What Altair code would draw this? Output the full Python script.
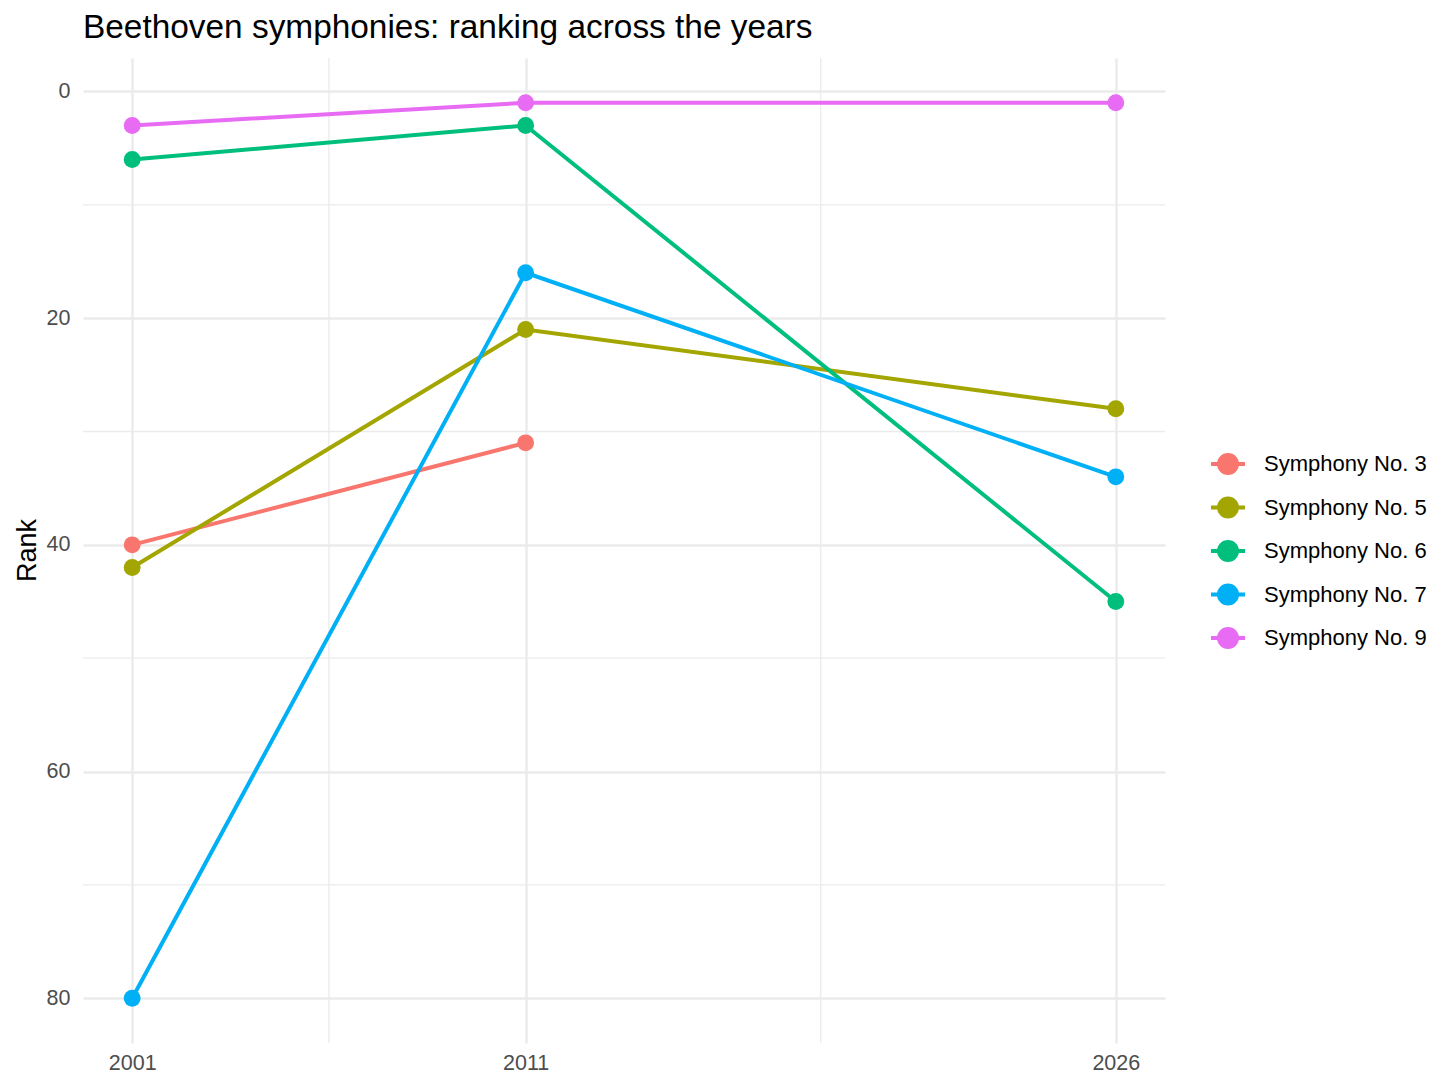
import altair as alt
import pandas as pd

# ---- data ----
symphonies = ["Symphony No. 3", "Symphony No. 5", "Symphony No. 6",
              "Symphony No. 7", "Symphony No. 9"]
years = [2001, 2011, 2026]
rank_no3 = [40, 31, None]
rank_no5 = [42, 21, 28]
rank_no6 = [6, 3, 45]
rank_no7 = [80, 16, 34]
rank_no9 = [3, 1, 1]
colors = ["#F8766D", "#A3A500", "#00BF7D", "#00B0F6", "#E76BF3"]

y_major = [0, 20, 40, 60, 80]
y_minor = [10, 30, 50, 70]
x_minor = [2006, 2018.5]

rows = []
for name, ranks in zip(symphonies, [rank_no3, rank_no5, rank_no6, rank_no7, rank_no9]):
    for yr, rk in zip(years, ranks):
        if rk is not None:
            rows.append({"symphony": name, "year": yr, "rank": rk})
df = pd.DataFrame(rows)

FONT = "Liberation Sans"
GRID = "#EBEBEB"

xscale = alt.Scale(domain=[1999.75, 2027.25], nice=False, zero=False)
yscale = alt.Scale(domain=[-2.95, 83.95], nice=False, zero=False, reverse=True)

xaxis = alt.Axis(values=years, title=None, format="d", grid=True, gridColor=GRID,
                 gridWidth=2.5, domain=False, ticks=False, tickSize=0,
                 labelFont=FONT, labelFontSize=21.5, labelColor="#4D4D4D",
                 labelPadding=9, labelBaseline="top")
yaxis = alt.Axis(values=y_major, title="Rank", grid=True, gridColor=GRID,
                 gridWidth=2.5, domain=False, ticks=False, tickSize=0,
                 labelFont=FONT, labelFontSize=21.5, labelColor="#4D4D4D",
                 labelPadding=13, titleFont=FONT, titleFontSize=27,
                 titleFontWeight="normal", titleColor="black",
                 titleAngle=270, titleX=-48, titleY=492,
                 titleBaseline="alphabetic", titleAlign="center")

minor_y_df = pd.DataFrame({"rank": y_minor})
minor_x_df = pd.DataFrame({"year": x_minor})

minor_h = alt.Chart(minor_y_df).mark_rule(color=GRID, strokeWidth=1.3).encode(
    y=alt.Y("rank:Q", scale=yscale, axis=yaxis))
minor_v = alt.Chart(minor_x_df).mark_rule(color=GRID, strokeWidth=1.3).encode(
    x=alt.X("year:Q", scale=xscale, axis=xaxis))

legend = alt.Legend(
    title=None, orient="none", legendX=1126, legendY=387,
    symbolType="M-1,0H1M-0.53,0A0.53,0.53,0,1,0,0.53,0A0.53,0.53,0,1,0,-0.53,0Z",
    symbolSize=1156, symbolStrokeWidth=4, labelFont=FONT, labelFontSize=22,
    labelColor="black", labelOffset=17, rowPadding=6.5, padding=0,
    labelLimit=400,
)

base = alt.Chart(df).encode(
    x=alt.X("year:Q", scale=xscale, axis=xaxis),
    y=alt.Y("rank:Q", scale=yscale, axis=yaxis),
    color=alt.Color("symphony:N", scale=alt.Scale(domain=symphonies, range=colors),
                    legend=legend),
)
lines = base.mark_line(strokeWidth=4)
points = base.mark_point(filled=True, size=285, opacity=1)

chart = alt.layer(minor_h, minor_v, lines, points).properties(
    width=1082, height=985,
    autosize=alt.AutoSizeParams(type="none"),
    padding={"left": 75, "top": 50, "right": 270, "bottom": 36},
    title=alt.Title("Beethoven symphonies: ranking across the years",
                    anchor="start", frame="group", font=FONT, fontSize=33.4,
                    fontWeight="normal", color="black", offset=12),
).configure_view(stroke=None)

chart.save("out.html", embed_options={"renderer": "svg", "actions": False})
